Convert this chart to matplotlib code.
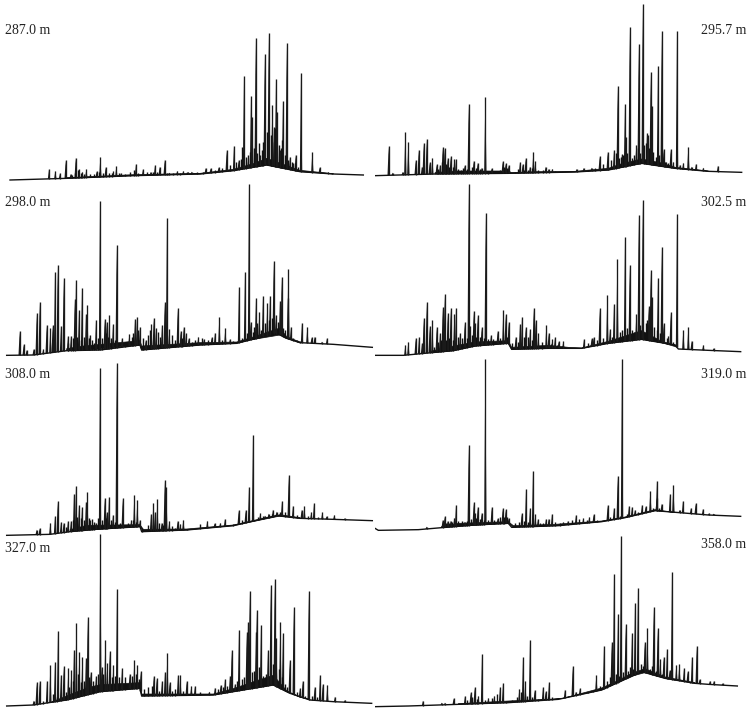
# Хроматограммы по глубинам, 8 панелей
# Координаты: время удерживания и отклик в условных единицах

import numpy as np
import matplotlib
matplotlib.use('Agg')
import matplotlib.pyplot as plt

plt.rcParams['font.family'] = ['Liberation Serif', 'DejaVu Serif']

labels = ['287.0 m', '295.7 m', '298.0 m', '302.5 m', '308.0 m', '319.0 m', '327.0 m', '358.0 m']

# 287.0 m
base_287_x = [30, 200, 400, 600, 700, 800, 900, 1000, 1090]
base_287_y = [15, 20, 28, 33, 43, 60, 40, 33, 30]
band_287_x = [200, 400, 600, 700, 760, 800, 850, 900, 1000]
band_287_y = [22, 31, 35, 47, 64, 80, 62, 44, 34]
peak_287_x = [147, 166, 180, 197, 212, 227, 237, 247, 259, 290, 301, 317, 340, 349, 363, 408, 429, 452, 465,
              479, 494, 508, 532, 550, 565, 575, 617, 632, 656, 680, 702, 716, 732, 745, 753, 757, 767, 780,
              794, 806, 817, 822, 828, 832, 840, 849, 860, 870, 878, 887, 903, 937, 959, 985, 995]
peak_287_y = [47, 42, 35, 74, 33, 82, 47, 40, 48, 41, 84, 54, 41, 56, 35, 63, 47, 39, 59,
              55, 76, 37, 42, 42, 38, 40, 51, 50, 53, 105, 118, 75, 328, 80, 266, 205, 442, 90,
              393, 455, 239, 175, 319, 220, 105, 252, 425, 85, 65, 91, 335, 98, 53, 38, 36]
grass_287_x = [215, 225, 233, 243, 253, 270, 282, 296, 308, 326, 335, 356, 375, 390, 402, 415, 440, 460, 472, 500,
               520, 540, 560, 590, 610, 645, 665, 690, 708, 722, 727, 738, 743, 750, 762, 772, 776, 786, 790, 800,
               812, 815, 825, 836, 843, 846, 855, 865, 875, 884, 893]
grass_287_y = [30, 36, 44, 36, 32, 32, 34, 38, 36, 36, 36, 36, 34, 38, 46, 36, 38, 38, 38, 36,
               36, 36, 38, 38, 38, 46, 50, 60, 70, 78, 115, 85, 90, 100, 110, 95, 125, 105, 130, 160,
               150, 130, 170, 120, 110, 135, 90, 75, 70, 65, 55]

# 295.7 m
base_296_x = [0, 180, 400, 600, 700, 800, 900, 1000, 1100]
base_296_y = [28, 33, 35, 39, 45, 65, 50, 41, 38]
band_296_x = [180, 240, 400, 410, 480, 600, 700, 740, 800, 860, 900, 1000]
band_296_y = [37, 42, 42, 37, 40, 41, 50, 64, 78, 66, 53, 42]
peak_296_x = [41, 53, 83, 91, 100, 122, 131, 141, 146, 155, 164, 172, 185, 195, 203, 209, 218, 227, 238, 243,
              269, 281, 296, 308, 320, 331, 350, 383, 392, 401, 435, 443, 452, 465, 475, 481, 512, 521, 532,
              605, 626, 650, 674, 698, 717, 728, 741, 750, 752, 764, 784, 791, 803, 816, 820, 827, 831, 849,
              860, 866, 873, 887, 895, 906, 915, 925, 940, 950, 963, 985, 1029]
peak_296_y = [116, 37, 39, 158, 130, 75, 106, 55, 126, 139, 68, 82, 62, 60, 113, 112, 82, 86, 77, 77,
              59, 244, 73, 67, 52, 264, 50, 71, 65, 60, 68, 63, 81, 55, 100, 71, 55, 48, 48,
              48, 51, 52, 86, 100, 104, 298, 92, 243, 143, 474, 120, 423, 542, 155, 150, 339, 238, 357,
              462, 108, 70, 107, 70, 462, 60, 67, 115, 55, 63, 52, 58]
grass_296_x = [190, 200, 213, 222, 233, 250, 258, 265, 275, 290, 302, 315, 340, 360, 375, 388, 397, 420, 430, 447,
               458, 470, 490, 505, 540, 640, 660, 685, 708, 722, 733, 738, 745, 757, 770, 776, 790, 796, 808, 812,
               823, 835, 843, 853, 870, 880, 900, 920]
grass_296_y = [48, 70, 62, 55, 55, 48, 46, 50, 48, 55, 52, 48, 42, 42, 45, 55, 50, 40, 48, 46,
               46, 50, 44, 44, 42, 46, 52, 62, 75, 95, 80, 85, 90, 95, 80, 90, 110, 95, 120, 125,
               110, 100, 85, 90, 70, 65, 55, 50]

# 298.0 m
base_298_x = [20, 100, 200, 300, 420, 425, 600, 710, 830, 860, 900, 1000, 1117]
base_298_y = [14, 15, 28, 30, 45, 30, 45, 50, 80, 65, 52, 47, 38]
band_298_x = [200, 250, 420, 425, 600, 710, 750, 840, 860, 900]
band_298_y = [34, 42, 58, 42, 52, 54, 66, 96, 70, 54]
peak_298_x = [59, 71, 80, 101, 110, 119, 130, 140, 151, 158, 165, 173, 183, 191, 204, 213, 224, 228, 237, 246,
              258, 262, 270, 288, 300, 314, 320, 328, 339, 350, 366, 388, 405, 411, 420, 437, 454, 461, 468,
              486, 494, 501, 508, 533, 542, 551, 558, 566, 595, 612, 635, 645, 658, 676, 690, 717, 735, 747,
              752, 768, 778, 789, 802, 810, 821, 828, 840, 845, 864, 865, 873, 906, 922, 935, 944, 966, 981]
peak_298_y = [87, 47, 30, 33, 141, 175, 32, 106, 95, 105, 264, 286, 102, 247, 72, 72, 182, 239, 149, 217,
              137, 165, 75, 121, 477, 124, 115, 135, 107, 345, 65, 78, 123, 129, 99, 60, 108, 126, 95,
              104, 173, 426, 93, 155, 88, 100, 80, 65, 70, 62, 68, 82, 129, 96, 62, 219, 265, 528,
              115, 185, 145, 193, 170, 193, 297, 135, 178, 250, 185, 272, 100, 112, 99, 68, 70, 55, 65]
grass_298_x = [205, 218, 232, 242, 252, 266, 276, 282, 294, 306, 318, 324, 334, 345, 375, 396, 400, 415, 430, 445,
               450, 474, 480, 515, 525, 547, 575, 585, 605, 625, 665, 700, 725, 740, 758, 763, 772, 784, 795, 806,
               815, 833, 850, 855, 880, 890, 900]
grass_298_y = [50, 65, 70, 60, 70, 65, 60, 50, 65, 65, 80, 70, 65, 60, 55, 70, 80, 90, 65, 75,
               90, 85, 70, 75, 60, 65, 55, 60, 65, 60, 60, 58, 65, 80, 85, 100, 110, 90, 110, 120,
               125, 115, 95, 90, 65, 60, 58]

# 302.5 m
base_302_x = [0, 85, 170, 235, 300, 400, 410, 520, 620, 700, 800, 900, 910, 1000, 1097]
base_302_y = [14, 14, 22, 28, 42, 50, 32, 35, 35, 50, 62, 45, 33, 29, 25]
band_302_x = [170, 235, 300, 400, 410, 520, 580, 620, 700, 800, 860, 905]
band_302_y = [27, 42, 54, 58, 38, 44, 38, 36, 56, 88, 56, 44]
peak_302_x = [91, 100, 122, 132, 141, 146, 155, 164, 172, 185, 195, 203, 209, 218, 227, 238, 243, 255, 269, 281,
              286, 296, 300, 308, 320, 332, 348, 368, 385, 392, 401, 422, 435, 441, 452, 465, 476, 482, 490,
              514, 521, 532, 540, 551, 565, 627, 650, 656, 674, 697, 705, 717, 727, 750, 764, 784, 791, 803,
              821, 827, 831, 849, 860, 866, 880, 887, 906, 925, 940, 950, 985, 1016]
peak_302_y = [45, 55, 66, 68, 50, 126, 173, 102, 119, 100, 80, 158, 197, 141, 156, 137, 155, 80, 113, 528,
              102, 148, 110, 134, 98, 442, 74, 88, 150, 137, 115, 70, 107, 129, 99, 92, 156, 120, 80,
              104, 82, 62, 68, 56, 56, 62, 65, 68, 155, 196, 92, 168, 302, 368, 285, 137, 435, 479,
              161, 270, 188, 247, 340, 110, 72, 143, 437, 90, 99, 58, 45, 35]
grass_302_x = [178, 190, 198, 213, 222, 233, 250, 262, 275, 292, 304, 314, 326, 340, 355, 376, 396, 410, 428, 447,
               458, 471, 500, 528, 545, 560, 640, 665, 685, 710, 735, 742, 756, 770, 778, 796, 812, 817, 838, 845,
               855, 875, 895]
grass_302_y = [38, 55, 60, 60, 65, 60, 70, 65, 65, 75, 70, 70, 65, 62, 62, 65, 68, 50, 55, 70,
               70, 60, 55, 48, 45, 42, 50, 60, 65, 70, 85, 90, 95, 90, 85, 105, 110, 120, 100, 90,
               80, 65, 55]

# 308.0 m
base_308_x = [20, 150, 210, 300, 420, 425, 560, 700, 830, 900, 1000, 1117]
base_308_y = [14, 17, 25, 33, 40, 25, 30, 43, 73, 65, 62, 58]
band_308_x = [210, 260, 420, 430, 560, 700, 840, 900]
band_308_y = [31, 44, 46, 32, 33, 45, 76, 67]
peak_308_x = [110, 119, 151, 165, 173, 183, 191, 204, 213, 222, 228, 237, 246, 258, 262, 270, 288, 300, 314, 320,
              327, 339, 350, 368, 394, 403, 412, 420, 453, 460, 465, 472, 485, 494, 499, 508, 533, 541, 550,
              622, 644, 661, 675, 716, 737, 747, 759, 781, 795, 806, 819, 830, 846, 866, 879, 905, 913, 934,
              942, 967, 980, 1003, 1034]
peak_308_y = [31, 35, 52, 71, 116, 53, 52, 57, 57, 139, 161, 104, 98, 115, 144, 59, 52, 517, 127, 83,
              129, 76, 531, 125, 60, 136, 120, 60, 78, 112, 85, 122, 52, 179, 158, 57, 58, 48, 61,
              58, 50, 51, 63, 89, 90, 159, 316, 80, 73, 79, 91, 85, 116, 194, 103, 91, 102, 83,
              110, 83, 71, 75, 65]
grass_308_x = [198, 218, 232, 242, 252, 266, 276, 282, 294, 306, 318, 332, 345, 360, 385, 398, 408, 425, 445, 458,
               477, 490, 515, 525, 560, 600, 700, 725, 760, 775, 790, 815, 840, 855, 890, 925, 955]
grass_308_y = [40, 60, 70, 65, 60, 65, 62, 55, 65, 60, 65, 60, 55, 52, 50, 60, 55, 35, 45, 45,
               50, 45, 42, 36, 34, 48, 48, 60, 62, 70, 72, 78, 85, 85, 75, 72, 70]

# 319.0 m
base_319_x = [0, 10, 130, 200, 300, 400, 410, 550, 680, 750, 840, 1000, 1097]
base_319_y = [35, 29, 31, 37, 45, 50, 38, 43, 55, 67, 88, 75, 71]
band_319_x = [200, 250, 400, 415, 540, 680, 750, 840, 900]
band_319_y = [41, 50, 55, 43, 47, 57, 69, 91, 82]
peak_319_x = [155, 203, 209, 218, 227, 238, 243, 269, 281, 296, 300, 308, 320, 331, 350, 368, 383, 392, 401, 440,
              453, 465, 474, 481, 489, 513, 521, 531, 565, 579, 603, 625, 643, 656, 698, 717, 728, 741, 762,
              771, 780, 801, 812, 826, 845, 846, 860, 885, 895, 914, 924, 948, 962, 984, 1002, 1016]
peak_319_y = [40, 60, 71, 57, 58, 67, 105, 55, 284, 113, 80, 100, 82, 543, 99, 65, 95, 92, 65, 80,
              153, 95, 208, 77, 63, 63, 64, 78, 53, 57, 75, 65, 69, 77, 105, 96, 193, 542, 102,
              99, 90, 105, 101, 147, 125, 178, 109, 138, 166, 90, 117, 96, 110, 93, 80, 79]
grass_319_x = [213, 223, 232, 250, 262, 275, 288, 304, 314, 326, 340, 358, 375, 388, 396, 420, 432, 446, 458, 470,
               495, 505, 540, 555, 590, 612, 635, 665, 705, 735, 755, 790, 835, 853, 875]
grass_319_y = [50, 52, 55, 58, 56, 58, 62, 65, 62, 60, 60, 60, 70, 68, 68, 50, 55, 58, 55, 52,
               50, 52, 55, 50, 60, 62, 60, 60, 68, 72, 78, 85, 95, 95, 85]

# 327.0 m
base_327_x = [20, 100, 200, 300, 420, 425, 640, 700, 820, 870, 930, 1000, 1115]
base_327_y = [24, 27, 42, 67, 77, 54, 57, 67, 87, 62, 42, 37, 32]
band_327_x = [150, 200, 260, 300, 420, 425, 640, 700, 770, 820, 860, 900, 930]
band_327_y = [34, 54, 78, 88, 94, 60, 60, 76, 100, 116, 70, 50, 44]
peak_327_x = [101, 110, 119, 141, 151, 165, 174, 183, 191, 205, 214, 222, 229, 238, 247, 258, 263, 272, 288, 301,
              305, 316, 322, 329, 340, 351, 366, 389, 403, 412, 422, 461, 470, 486, 495, 502, 509, 534, 541,
              560, 574, 585, 628, 645, 662, 675, 690, 695, 705, 717, 740, 744, 749, 768, 770, 783, 804, 812,
              824, 829, 841, 849, 869, 881, 900, 908, 926, 944, 960, 968, 982, 1005, 1035]
peak_327_y = [40, 95, 100, 100, 146, 157, 250, 118, 143, 137, 131, 192, 273, 187, 170, 168, 291, 127, 114, 540,
              142, 222, 152, 188, 147, 376, 137, 121, 162, 147, 128, 114, 107, 98, 127, 184, 95, 116, 118,
              99, 84, 84, 67, 79, 87, 104, 115, 192, 90, 252, 245, 276, 369, 247, 312, 267, 192, 388,
              404, 227, 277, 242, 162, 320, 77, 100, 369, 82, 117, 90, 88, 52, 42]
grass_327_x = [128, 158, 170, 197, 208, 218, 233, 243, 253, 268, 278, 295, 310, 335, 345, 358, 375, 395, 408, 418,
               432, 445, 455, 478, 515, 525, 550, 600, 655, 668, 682, 712, 725, 732, 757, 762, 776, 790, 798, 818,
               836, 845, 855, 862, 890, 915, 935, 950]
grass_327_y = [40, 60, 50, 65, 80, 100, 120, 95, 100, 110, 100, 120, 120, 110, 115, 110, 110, 115, 120, 105,
               75, 80, 85, 70, 70, 75, 70, 65, 75, 80, 85, 100, 105, 110, 125, 130, 140, 115, 120, 150,
               135, 110, 90, 80, 65, 55, 55, 50]

# 358.0 m
base_358_x = [0, 100, 250, 400, 550, 680, 800, 870, 960, 1000, 1087]
base_358_y = [22, 24, 29, 34, 44, 72, 127, 107, 92, 89, 84]
band_358_x = [250, 400, 560, 680, 720, 770, 810, 870, 960]
band_358_y = [31, 39, 46, 78, 96, 122, 136, 111, 94]
peak_358_x = [144, 200, 210, 236, 270, 287, 299, 310, 321, 340, 358, 375, 384, 433, 444, 451, 465, 479, 504, 512,
              522, 570, 593, 603, 615, 664, 687, 710, 717, 729, 738, 752, 771, 780, 789, 809, 817, 836, 848,
              856, 866, 876, 884, 891, 904, 913, 927, 938, 951, 965, 974, 1005, 1017, 1043]
peak_358_y = [40, 34, 34, 47, 54, 65, 80, 55, 179, 48, 55, 80, 92, 76, 170, 100, 223, 72, 80, 68,
              95, 73, 144, 67, 77, 116, 205, 217, 421, 299, 535, 269, 242, 334, 379, 217, 257, 321, 257,
              166, 172, 195, 132, 427, 148, 149, 137, 128, 171, 205, 104, 99, 99, 92]
grass_358_x = [275, 292, 305, 330, 350, 365, 393, 410, 425, 438, 456, 470, 490, 518, 530, 545, 580, 625, 640, 655,
               675, 695, 705, 722, 733, 745, 758, 765, 775, 797, 803, 825, 830, 842, 860, 872, 880, 897, 920, 945,
               958]
grass_358_y = [42, 50, 44, 42, 48, 60, 40, 42, 50, 65, 55, 50, 46, 52, 50, 46, 52, 60, 65, 72,
               85, 100, 110, 120, 115, 125, 130, 140, 135, 150, 145, 135, 145, 130, 120, 115, 110, 105, 100, 95,
               93]

W, H = 751, 714


# Рисование одной панели
def draw_panel(box, base_x, base_y, band_x, band_y, peak_x, peak_y, grass_x, grass_y):
    x0, y0, w, h = box
    ax = fig.add_axes([x0 / W, 1 - (y0 + h) / H, w / W, h / H])
    ax.set_xlim(0, w * 3)
    ax.set_ylim(0, h * 3)
    ax.axis('off')
    ax.fill(list(band_x) + list(band_x)[::-1],
            list(band_y) + list(np.interp(band_x, base_x, base_y))[::-1],
            color='#111111', lw=0.5)
    ax.plot(base_x, base_y, color='#111111', lw=1.0)
    ax.vlines(grass_x, np.interp(grass_x, base_x, base_y), grass_y, color='#111111', lw=1.0)
    bottom = np.interp(peak_x, base_x, base_y)
    ax.vlines(peak_x, bottom, peak_y, color='#1a1a1a', lw=0.95)
    # Пики чуть шире у основания
    for px, pb, py in zip(peak_x, bottom, peak_y):
        ax.fill([px - 3.5, px, px + 3.5], [pb, py, pb], color='#1a1a1a', lw=0)
    return ax


if __name__ == '__main__':
    fig = plt.figure(figsize=(W / 100, H / 100), dpi=100)

    draw_panel((0, 0, 375, 185), base_287_x, base_287_y, band_287_x, band_287_y, peak_287_x, peak_287_y, grass_287_x, grass_287_y)
    draw_panel((375, 0, 376, 185), base_296_x, base_296_y, band_296_x, band_296_y, peak_296_x, peak_296_y, grass_296_x, grass_296_y)
    draw_panel((0, 180, 375, 180), base_298_x, base_298_y, band_298_x, band_298_y, peak_298_x, peak_298_y, grass_298_x, grass_298_y)
    draw_panel((375, 180, 376, 180), base_302_x, base_302_y, band_302_x, band_302_y, peak_302_x, peak_302_y, grass_302_x, grass_302_y)
    draw_panel((0, 355, 375, 185), base_308_x, base_308_y, band_308_x, band_308_y, peak_308_x, peak_308_y, grass_308_x, grass_308_y)
    draw_panel((375, 355, 376, 185), base_319_x, base_319_y, band_319_x, band_319_y, peak_319_x, peak_319_y, grass_319_x, grass_319_y)
    draw_panel((0, 530, 375, 184), base_327_x, base_327_y, band_327_x, band_327_y, peak_327_x, peak_327_y, grass_327_x, grass_327_y)
    draw_panel((375, 530, 376, 184), base_358_x, base_358_y, band_358_x, band_358_y, peak_358_x, peak_358_y, grass_358_x, grass_358_y)

    # Подписи глубин
    left_y = [31, 203, 375, 548]
    right_y = [31, 203, 375, 545]
    for i in range(4):
        fig.text(5 / W, 1 - left_y[i] / H, labels[2 * i], fontsize=10, ha='left', va='center', color='#222222')
        fig.text(746 / W, 1 - right_y[i] / H, labels[2 * i + 1], fontsize=10, ha='right', va='center', color='#222222')

    fig.savefig('out.png', dpi=100)
